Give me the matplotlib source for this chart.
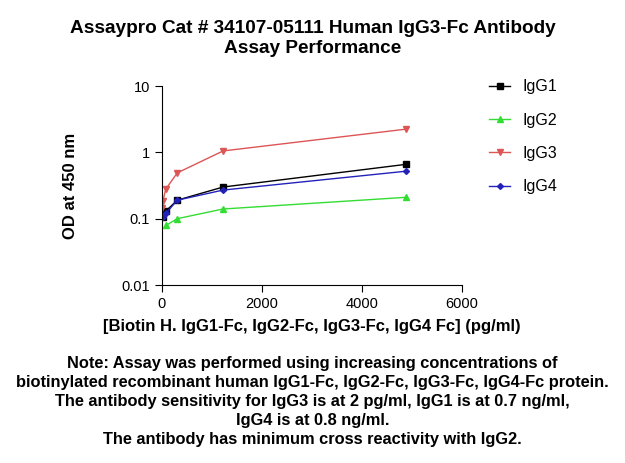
import numpy as np
import matplotlib.pyplot as plt

plt.rcParams['font.family'] = ['Liberation Sans', 'DejaVu Sans']

# Data (concentration in pg/ml, OD at 450 nm)
x_igg1 = [19, 76, 305, 1221, 4883]
y_igg1 = [0.107, 0.13, 0.19, 0.30, 0.66]

x_igg2 = [76, 305, 1221, 4883]
y_igg2 = [0.079, 0.10, 0.14, 0.21]

x_igg3 = [1.2, 4.8, 19, 76, 305, 1221, 4883]
y_igg3 = [0.11, 0.145, 0.186, 0.28, 0.49, 1.05, 2.24]

x_igg4 = [19, 76, 305, 1221, 4883]
y_igg4 = [0.105, 0.12, 0.19, 0.27, 0.52]

fig = plt.figure(figsize=(6.25, 4.63), dpi=100)
ax = fig.add_axes([0.2592, 0.3844, 0.48, 0.4298])

ax.plot(x_igg1, y_igg1, color='black', marker='s', markersize=5, lw=1, label='IgG1')
ax.plot(x_igg2, y_igg2, color='#33dd33', marker='^', markersize=5, lw=1, label='IgG2')
ax.plot(x_igg3, y_igg3, color='#dd5555', marker='v', markersize=5, lw=1, label='IgG3')
ax.plot(x_igg4, y_igg4, color='#2222bb', marker='D', markersize=3, lw=1, label='IgG4')

ax.set_yscale('log')
ax.set_ylim(0.01, 10)
ax.set_xlim(0, 6000)
ax.set_xticks([0, 2000, 4000, 6000])
ax.set_yticks([0.01, 0.1, 1, 10])
ax.set_yticklabels(['0.01', '0.1', '1', '10'])
ax.minorticks_off()
ax.spines['top'].set_visible(False)
ax.spines['right'].set_visible(False)
ax.tick_params(labelsize=10.5, direction='out', length=5)

ax.set_ylabel('OD at 450 nm', fontsize=12, fontweight='bold')
ax.yaxis.set_label_coords(-0.28, 0.5)
ax.set_xlabel('[Biotin H. IgG1-Fc, IgG2-Fc, IgG3-Fc, IgG4 Fc] (pg/ml)',
              fontsize=12, fontweight='bold', labelpad=6)

fig.text(0.5, 0.957, 'Assaypro Cat # 34107-05111 Human IgG3-Fc Antibody\nAssay Performance',
         ha='center', va='top', fontsize=13.7, fontweight='bold', linespacing=1.2)

ax.legend(loc='upper left', bbox_to_anchor=(0.76, 0.86), bbox_transform=fig.transFigure,
          frameon=False, fontsize=11.5, handlelength=1.3, labelspacing=1.15)

note = ('Note: Assay was performed using increasing concentrations of\n'
        'biotinylated recombinant human IgG1-Fc, IgG2-Fc, IgG3-Fc, IgG4-Fc protein.\n'
        'The antibody sensitivity for IgG3 is at 2 pg/ml, IgG1 is at 0.7 ng/ml,\n'
        'IgG4 is at 0.8 ng/ml.\n'
        'The antibody has minimum cross reactivity with IgG2.')
fig.text(0.5, 0.232, note, ha='center', va='top', fontsize=11.8, fontweight='bold',
         linespacing=1.34)

plt.savefig('out.png', dpi=100)
